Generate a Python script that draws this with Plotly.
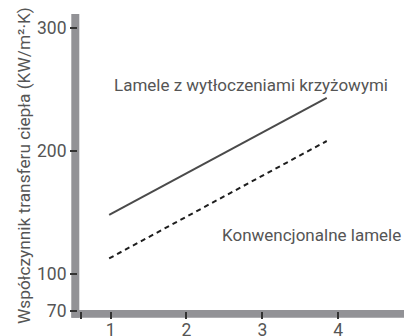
import plotly.graph_objects as go

# Data
x_vals = [0.98, 3.85]
cross_embossed = [147.8, 242.9]
conventional = [112.5, 207.9]
x_ticks = [0.615, 1, 2, 3, 4]
x_tick_text = ["", "1", "2", "3", "4"]
y_ticks = [70, 100, 200, 300]
y_tick_text = ["70", "100", "200", "300"]
label_cross = "Lamele z wytłoczeniami krzyżowymi"
label_conv = "Konwencjonalne lamele"
y_title = "Współczynnik transferu ciepła (KW/m²·K)"

fig = go.Figure()
fig.add_trace(go.Scatter(x=x_vals, y=cross_embossed, mode="lines",
                         line=dict(color="#4a4a4a", width=2), showlegend=False))
fig.add_trace(go.Scatter(x=x_vals, y=conventional, mode="lines",
                         line=dict(color="#1e1e1e", width=2, dash="5px,4px"), showlegend=False))

txt_font = dict(family="Roboto", size=17, color="#555555")
fig.add_annotation(x=1.013, y=253.4, xref="x", yref="y", text=label_cross, xanchor="left",
                   showarrow=False, font=txt_font)
fig.add_annotation(x=4.86, y=131.5, xref="x", yref="y", text=label_conv, xanchor="right",
                   showarrow=False, font=txt_font)
# y-axis title
fig.add_annotation(x=-0.1656, y=0.488, xref="paper", yref="paper", text=y_title,
                   textangle=-90, showarrow=False, xanchor="center", yanchor="middle",
                   font=dict(family="Roboto", size=17.3, color="#555555"))

axis_color = "#929296"
# thick axis bars
fig.add_shape(type="rect", xref="paper", yref="paper", xsizemode="pixel", ysizemode="pixel",
              xanchor=0, yanchor=0, x0=-6.7, x1=1.3, y0=-6.7, y1=297,
              fillcolor=axis_color, line_width=0, layer="below")
fig.add_shape(type="rect", xref="paper", yref="paper", ysizemode="pixel",
              yanchor=0, x0=-0.02, x1=1.0, y0=-6.7, y1=1,
              fillcolor=axis_color, line_width=0, layer="below")

tick_font = dict(family="Roboto", size=17.5, color="#555555")
fig.update_xaxes(range=[0.569, 4.869], showline=False, automargin=False,
                 tickvals=x_ticks, ticktext=x_tick_text, ticks="outside", ticklen=7,
                 tickwidth=1.5, tickcolor="#333333", showgrid=False, zeroline=False,
                 tickfont=tick_font, ticklabelstandoff=-4)
fig.update_yaxes(range=[69.76, 311.1], showline=False, automargin=False,
                 tickvals=y_ticks, ticktext=y_tick_text, ticks="outside", ticklen=7,
                 tickwidth=1.5, tickcolor="#333333", showgrid=False, zeroline=False,
                 tickfont=tick_font)

fig.update_layout(width=404, height=336, margin=dict(l=78, r=0, t=14, b=25),
                  plot_bgcolor="rgba(0,0,0,0)", paper_bgcolor="white")
fig.write_html("out.html", config={"displayModeBar": False},
               post_script="document.body.style.margin='0';document.body.style.overflow='hidden';")
